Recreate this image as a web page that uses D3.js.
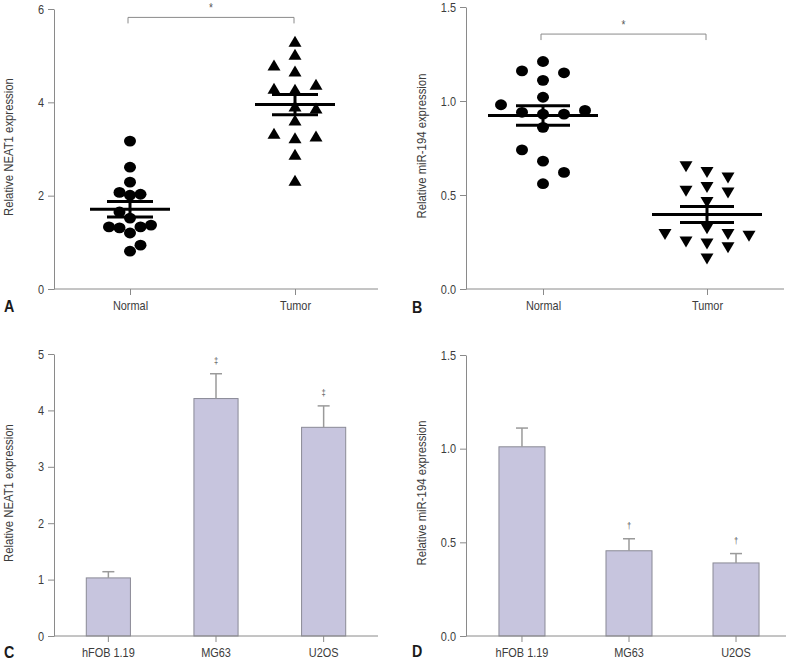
<!DOCTYPE html>
<html><head><meta charset="utf-8">
<script src="https://cdn.jsdelivr.net/npm/d3@7"></script>
<style>
body{margin:0;background:#fff}
svg{display:block}
text{font-family:"Liberation Sans",Arial,sans-serif}
</style>
</head><body>
<svg id="chart" width="792" height="663"></svg>
<script>
// ---------------- DATA ----------------
const tissueGroups = ["Normal", "Tumor"];
const neat1Normal = [3.17, 2.61, 2.29, 2.03, 2.01, 2.07, 1.52, 1.65, 1.31, 1.33, 1.37, 1.33, 1.20, 0.94, 0.81];
const neat1Tumor  = [5.31, 5.03, 4.80, 4.67, 4.39, 4.30, 4.28, 3.88, 3.92, 3.62, 3.34, 3.24, 3.28, 2.89, 2.33];
const mir194Normal = [1.21, 1.16, 1.15, 1.11, 1.02, 0.98, 0.95, 0.94, 0.93, 0.93, 0.86, 0.74, 0.68, 0.62, 0.56];
const mir194Tumor  = [0.65, 0.62, 0.59, 0.54, 0.52, 0.51, 0.46, 0.32, 0.29, 0.29, 0.28, 0.25, 0.24, 0.22, 0.16];

const cellLines = ["hFOB 1.19", "MG63", "U2OS"];
const neat1CellMean = [1.03, 4.21, 3.70];
const neat1CellErr  = [0.11, 0.44, 0.38];
const neat1CellSig  = ["", "\u2021", "\u2021"];
const mir194CellMean = [1.01, 0.455, 0.39];
const mir194CellErr  = [0.10, 0.064, 0.05];
const mir194CellSig  = ["", "\u2020", "\u2020"];

const neat1Ticks = [0, 2, 4, 6];
const mir194Ticks = [0, 0.5, 1.0, 1.5];
const neat1CellTicks = [0, 1, 2, 3, 4, 5];

// ---------------- STYLE ----------------
const AXIS = "#8a8a8a", TXT = "#3c3c3c", BARFILL = "#c7c5de", BARSTROKE = "#8a8a96", ERR = "#9a9a9a";
const NARROW = 0.84;
const svg = d3.select("#chart");

function yAxis(g, y, x, ticks, fmt) {
  const a = g.append("g").attr("transform", `translate(${x},0)`)
    .call(d3.axisLeft(y).tickValues(ticks).tickFormat(fmt).tickSize(6).tickPadding(4).tickSizeOuter(0));
  a.select(".domain").attr("stroke", AXIS);
  a.selectAll(".tick line").attr("stroke", AXIS);
  a.selectAll(".tick text").attr("fill", TXT).style("font-size", "13px");
}
function xAxis(g, xs, y0, xStart, xEnd) {
  const a = g.append("g").attr("transform", `translate(0,${y0})`)
    .call(d3.axisBottom(xs).tickSize(6).tickPadding(6).tickSizeOuter(0));
  a.select(".domain").remove();
  a.selectAll(".tick line").attr("stroke", AXIS);
  a.selectAll(".tick text").attr("fill", TXT).style("font-size", "13px");
  g.append("line").attr("x1", xStart).attr("x2", xEnd).attr("y1", y0).attr("y2", y0).attr("stroke", AXIS);
}
function yTitle(g, text, x, yc) {
  g.append("text").attr("transform", `translate(${x},${yc}) rotate(-90)`)
    .attr("text-anchor", "middle").attr("fill", TXT).style("font-size", "13.5px").text(text);
}
function panelLetter(g, t, x, y) {
  g.append("text").attr("x", x).attr("y", y).attr("fill", "#1a1a1a")
    .style("font-size", "17px").style("font-weight", "bold").text(t);
}

// deterministic slot beeswarm
function swarm(vals, y, cx, step, mh) {
  const idx = d3.range(vals.length).sort((a, b) => vals[a] - vals[b]);
  const placed = [], xs = new Array(vals.length);
  let side = 1;
  for (const i of idx) {
    const py = y(vals[i]);
    let chosen = null;
    for (let m = 0; m < 12 && chosen === null; m++) {
      const cands = m === 0 ? [0] : [side * m, -side * m];
      for (const k of cands) {
        const px = cx + k * step;
        if (!placed.some(p => Math.abs(p.x - px) < step / 2 && Math.abs(p.y - py) < mh)) { chosen = k; break; }
      }
    }
    if (chosen !== 0) side = -Math.sign(chosen);
    const px = cx + chosen * step;
    placed.push({x: px, y: py});
    xs[i] = px;
  }
  return xs;
}

function marker(kind, x, y) {
  const w = 6.5, h = 5.5;
  if (kind === "up") return `M${x - w},${y + h}L${x + w},${y + h}L${x},${y - h}Z`;
  return `M${x - w},${y - h}L${x + w},${y - h}L${x},${y + h}Z`;
}

function dotPanel(cfg) {
  const g = svg.append("g");
  const y = d3.scaleLinear().domain([0, cfg.ymax]).range([cfg.yBot, cfg.yTop]);
  const x = d3.scalePoint().domain(tissueGroups).range(cfg.catRange);
  yAxis(g, y, cfg.axisX, cfg.ticks, cfg.fmt);
  xAxis(g, x, cfg.yBot, cfg.axisX, cfg.axisEnd);
  yTitle(g, cfg.title, cfg.titleX, cfg.titleY);
  panelLetter(g, cfg.letter, cfg.letterX, cfg.letterY);

  cfg.series.forEach((vals, si) => {
    const cx = x(tissueGroups[si]);
    const xs = swarm(vals, y, cx, cfg.steps[si], 12.5);
    const kind = cfg.markers[si];
    if (kind === "circle") {
      g.selectAll(null).data(vals).join("ellipse")
        .attr("cx", (d, i) => xs[i]).attr("cy", d => y(d))
        .attr("rx", 6).attr("ry", 5.4).attr("fill", "#000");
    } else {
      g.selectAll(null).data(vals).join("path")
        .attr("d", (d, i) => marker(kind, xs[i], y(d))).attr("fill", "#000");
    }
    const m = d3.mean(vals), sem = d3.deviation(vals) / Math.sqrt(vals.length);
    const lw = 3;
    g.append("line").attr("x1", cx - cfg.meanW / 2).attr("x2", cx + cfg.meanW / 2)
      .attr("y1", y(m)).attr("y2", y(m)).attr("stroke", "#000").attr("stroke-width", lw);
    [m + sem, m - sem].forEach(v => g.append("line")
      .attr("x1", cx - cfg.semW / 2).attr("x2", cx + cfg.semW / 2)
      .attr("y1", y(v)).attr("y2", y(v)).attr("stroke", "#000").attr("stroke-width", lw));
    g.append("line").attr("x1", cx).attr("x2", cx).attr("y1", y(m + sem)).attr("y2", y(m - sem))
      .attr("stroke", "#000").attr("stroke-width", lw);
  });

  const by = y(cfg.bracket);
  const bx1 = x(tissueGroups[0]) - 2, bx2 = x(tissueGroups[1]) - 1;
  g.append("path").attr("d", `M${bx1},${by + 6}V${by}H${bx2}V${by + 6}`)
    .attr("fill", "none").attr("stroke", "#8a8a8a").attr("stroke-width", 1);
  g.append("text").attr("x", (bx1 + bx2) / 2).attr("y", by - 5).attr("text-anchor", "middle")
    .attr("fill", "#555").style("font-size", "12px").text("*");
}

function barPanel(cfg) {
  const g = svg.append("g");
  const y = d3.scaleLinear().domain([0, cfg.ymax]).range([cfg.yBot, cfg.yTop]);
  const x = d3.scaleBand().domain(cellLines).range(cfg.bandRange)
    .paddingInner(cfg.pi).paddingOuter(cfg.po);
  g.selectAll(null).data(cfg.mean).join("rect")
    .attr("x", (d, i) => x(cellLines[i])).attr("width", x.bandwidth())
    .attr("y", d => y(d)).attr("height", d => cfg.yBot - y(d))
    .attr("fill", BARFILL).attr("stroke", BARSTROKE).attr("stroke-width", 1);
  cfg.mean.forEach((d, i) => {
    const cx = x(cellLines[i]) + x.bandwidth() / 2;
    const top = y(d + cfg.err[i]);
    g.append("line").attr("x1", cx).attr("x2", cx).attr("y1", y(d)).attr("y2", top)
      .attr("stroke", ERR).attr("stroke-width", 1.5);
    g.append("line").attr("x1", cx - 6).attr("x2", cx + 6).attr("y1", top).attr("y2", top)
      .attr("stroke", ERR).attr("stroke-width", 1.5);
    if (cfg.sig[i]) g.append("text").attr("x", cx).attr("y", top - 10).attr("text-anchor", "middle")
      .attr("fill", "#555").style("font-size", "9px").text(cfg.sig[i]);
  });
  yAxis(g, y, cfg.axisX, cfg.ticks, cfg.fmt);
  xAxis(g, x, cfg.yBot, cfg.axisX, cfg.axisEnd);
  yTitle(g, cfg.title, cfg.titleX, cfg.titleY);
  panelLetter(g, cfg.letter, cfg.letterX, cfg.letterY);
}

dotPanel({
  letter: "A", letterX: 4, letterY: 312,
  axisX: 54, axisEnd: 378, yTop: 9, yBot: 289, ymax: 6,
  ticks: neat1Ticks, fmt: d3.format("d"), catRange: [130, 295],
  title: "Relative NEAT1 expression", titleX: 13, titleY: 147,
  series: [neat1Normal, neat1Tumor], markers: ["circle", "up"], steps: [10.5, 21],
  meanW: 80, semW: 46, bracket: 5.82
});
dotPanel({
  letter: "B", letterX: 412, letterY: 313,
  axisX: 466, axisEnd: 784, yTop: 7, yBot: 289, ymax: 1.5,
  ticks: mir194Ticks, fmt: d3.format(".1f"), catRange: [543, 707],
  title: "Relative miR-194 expression", titleX: 426, titleY: 146,
  series: [mir194Normal, mir194Tumor], markers: ["circle", "down"], steps: [21, 21],
  meanW: 110, semW: 54, bracket: 1.356
});
barPanel({
  letter: "C", letterX: 4, letterY: 658,
  axisX: 54, axisEnd: 378, yTop: 354, yBot: 636, ymax: 5,
  ticks: neat1CellTicks, fmt: d3.format("d"),
  bandRange: [54, 378], pi: 0.59, po: 0.30,
  mean: neat1CellMean, err: neat1CellErr, sig: neat1CellSig,
  title: "Relative NEAT1 expression", titleX: 13, titleY: 493
});
barPanel({
  letter: "D", letterX: 412, letterY: 657,
  axisX: 466, axisEnd: 786, yTop: 355, yBot: 636, ymax: 1.5,
  ticks: mir194Ticks, fmt: d3.format(".1f"),
  bandRange: [466, 792], pi: 0.57, po: 0.308,
  mean: mir194CellMean, err: mir194CellErr, sig: mir194CellSig,
  title: "Relative miR-194 expression", titleX: 426, titleY: 493
});

// emulate a narrow typeface by condensing every label horizontally
svg.selectAll("text").each(function () {
  const L = this.getComputedTextLength();
  if (L > 0) {
    this.setAttribute("textLength", (L * NARROW).toFixed(2));
    this.setAttribute("lengthAdjust", "spacingAndGlyphs");
  }
});
</script>
</body></html>
